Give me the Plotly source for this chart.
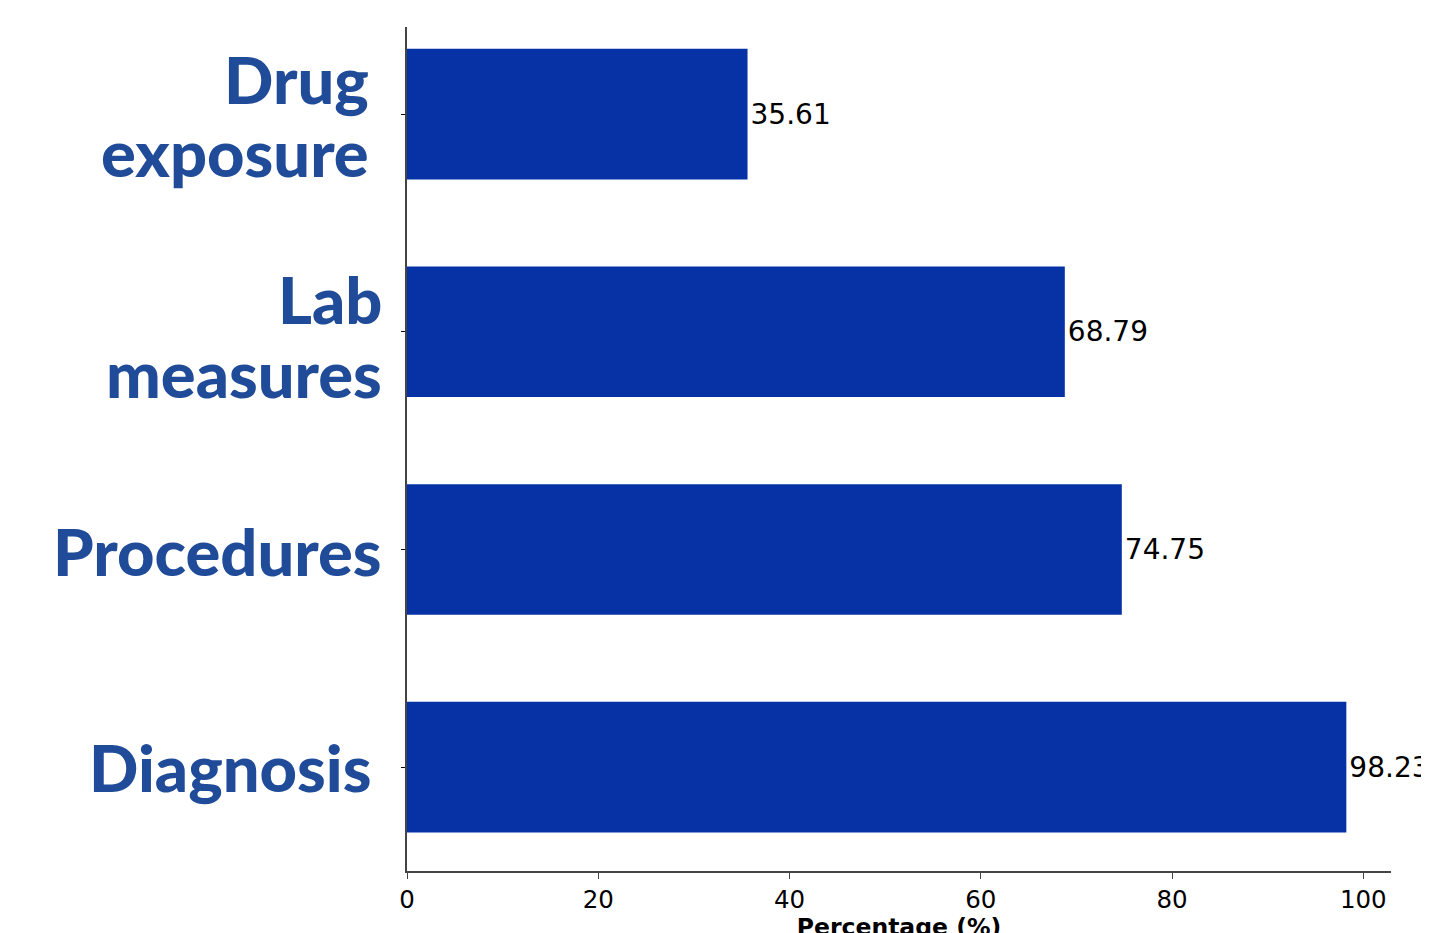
import plotly.graph_objects as go

categories = ["Diagnosis", "Procedures", "Lab measures", "Drug exposure"]
label_lines = [["Diagnosis"], ["Procedures"], ["Lab", "measures"], ["Drug", "exposure"]]
values = [98.23, 74.75, 68.79, 35.61]
value_labels = ["98.23", "74.75", "68.79", "35.61"]
x_ticks = [0, 20, 40, 60, 80, 100]

W, H = 1429, 933
L, R, T, B = 399, 46, 19, 70

fig = go.Figure()
fig.add_trace(go.Bar(
    y=categories, x=values, orientation="h",
    marker=dict(color="#0632A6", line=dict(width=0)),
    width=0.6,
    text=value_labels, textposition="outside", cliponaxis=False,
    constraintext="none",
    textfont=dict(family="DejaVu Sans", size=28, color="black"),
))

# label placement styling (pixel shifts per line)
label_style = {
    "Diagnosis": (-33, [0]),
    "Procedures": (-23, [-2]),
    "Lab measures": (-23, [33, -41]),
    "Drug exposure": (-36, [35, -38]),
}
for cat, lines in zip(categories, label_lines):
    dx, dys = label_style[cat]
    for line, dy in zip(lines, dys):
        fig.add_annotation(
            x=0, xref="paper", y=cat, yref="y", text=line, showarrow=False,
            xanchor="right", yanchor="middle", align="right", xshift=dx, yshift=dy,
            font=dict(family="Lato", size=65, color="#1F4B99", weight=900),
        )

fig.update_layout(
    width=W, height=H,
    margin=dict(l=L, r=R, t=T, b=B, autoexpand=False),
    plot_bgcolor="white", paper_bgcolor="white",
    showlegend=False, bargap=0.4,
    xaxis=dict(
        range=[0, 102.9], tickvals=x_ticks, ticktext=[str(v) for v in x_ticks],
        showline=True, linecolor="#444", linewidth=1.5, ticks="outside", ticklen=6,
        tickcolor="#444", tickwidth=1.2, showgrid=False, zeroline=False,
        tickfont=dict(family="DejaVu Sans", size=24.5, color="black"),
        title=dict(text="<b>Percentage (%)</b>", standoff=10,
                   font=dict(family="DejaVu Sans", size=23.5, color="black")),
        automargin=False,
    ),
    yaxis=dict(
        categoryorder="array", categoryarray=categories,
        range=[-0.477, 3.4], showline=True, linecolor="#444", linewidth=1.5,
        ticks="outside", ticklen=4, tickcolor="black", tickwidth=1.2,
        showticklabels=False, showgrid=False, zeroline=False, automargin=False,
    ),
)

fig.write_html("out.html")
